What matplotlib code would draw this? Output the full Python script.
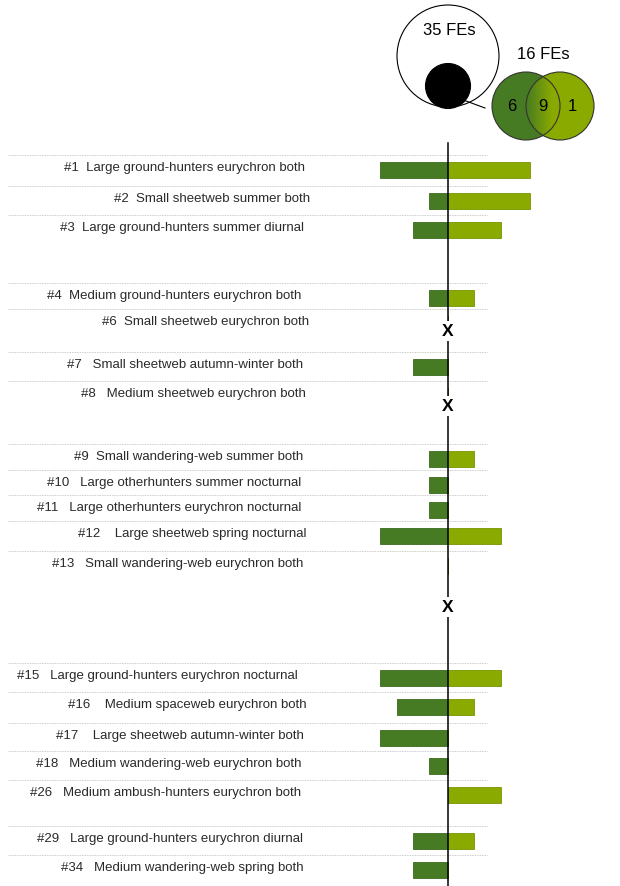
import numpy as np
import matplotlib.pyplot as plt
from matplotlib.patches import Circle

plt.rcParams['font.family'] = ['Liberation Sans', 'DejaVu Sans']

# functional entities (FEs), top to bottom
fe_ids = ['#1', '#2', '#3', '#4', '#6', '#7', '#8', '#9', '#10', '#11', '#12',
          '#13', '#15', '#16', '#17', '#18', '#26', '#29', '#34']
fe_names = ['Large ground-hunters eurychron both',
            'Small sheetweb summer both',
            'Large ground-hunters summer diurnal',
            'Medium ground-hunters eurychron both',
            'Small sheetweb eurychron both',
            'Small sheetweb autumn-winter both',
            'Medium sheetweb eurychron both',
            'Small wandering-web summer both',
            'Large otherhunters summer nocturnal',
            'Large otherhunters eurychron nocturnal',
            'Large sheetweb spring nocturnal',
            'Small wandering-web eurychron both',
            'Large ground-hunters eurychron nocturnal',
            'Medium spaceweb eurychron both',
            'Large sheetweb autumn-winter both',
            'Medium wandering-web eurychron both',
            'Medium ambush-hunters eurychron both',
            'Large ground-hunters eurychron diurnal',
            'Medium wandering-web spring both']
# left (dark green) and right (light green) bar lengths
left_vals = [4.0, 1.1, 2.05, 1.1, 0, 2.05, 0, 1.1, 1.1, 1.1, 4.0,
             0, 4.0, 3.0, 4.0, 1.1, 0, 2.05, 2.05]
right_vals = [4.8, 4.8, 3.1, 1.5, 0, 0, 0, 1.5, 0, 0, 3.1,
              0, 3.1, 1.5, 0, 0, 3.1, 1.5, 0]
absent = ['#6', '#8', '#13']

# venn counts
big_label = '35 FEs'
small_label = '16 FEs'
venn_counts = [6, 9, 1]

# layout (pixels from top)
row_top = [155, 186, 215, 283, 309, 352, 381, 444, 470, 495, 521,
           551, 663, 692, 723, 751, 780, 826, 855]
gap = [2, 2, 2, 2, 2, 3, 3, 2, 3, 3, 4, 3, 3, 4, 4, 3, 3, 3, 3]
label_right = [305, 310, 304, 301, 309, 303, 306, 303, 301, 301, 307,
               303, 298, 307, 304, 302, 301, 303, 304]
x_offset = {'#6': 22, '#8': 25, '#13': 56}
px_unit = 17.0
x0_px = 448
dark = '#467a23'
light = '#8aaa00'

fig = plt.figure(figsize=(6.2, 8.86), dpi=100)

# pixel-space axes for decorations
axp = fig.add_axes([0, 0, 1, 1])
axp.set_xlim(0, 620)
axp.set_ylim(886, 0)
axp.axis('off')

# bar axes sharing the pixel y coordinates
ax = fig.add_axes([0, 0, 1, 1])
ax.set_xlim(-x0_px / px_unit, (620 - x0_px) / px_unit)
ax.set_ylim(886, 0)
ax.axis('off')
ax.patch.set_alpha(0)

rows = np.array(row_top, dtype=float)
bar_y = rows + 14.5
lv = np.array(left_vals)
rv = np.array(right_vals)
ax.barh(bar_y, -lv, height=16, left=0, color=dark, edgecolor='#3a6a1c', linewidth=0.6, zorder=2)
ax.barh(bar_y, rv, height=16, left=0, color=light, edgecolor='#789400', linewidth=0.6, zorder=2)

for i, (fid, name) in enumerate(zip(fe_ids, fe_names)):
    axp.plot([8, 487], [rows[i], rows[i]], ls=(0, (1, 1)), color='#bbbbbb', lw=0.6)
    axp.text(label_right[i], rows[i] + 13, fid + ' ' * gap[i] + name, ha='right', va='center',
             fontsize=9.5, color='#2a2a2a')
    if fid in absent:
        ax.text(0, rows[i] + x_offset[fid], 'X', ha='center', va='center',
                fontsize=12.5, fontweight='bold', color='black', zorder=5,
                bbox=dict(facecolor='white', edgecolor='none', pad=1.5))

ax.plot([0, 0], [143, 886], color='black', lw=1.1, zorder=3)

# venn diagrams
axp.add_patch(Circle((448, 56), 51, facecolor='white', edgecolor='black', lw=0.8))
axp.add_patch(Circle((448, 86), 22.5, facecolor='black', edgecolor='black', lw=0.8))
axp.plot([466, 485], [101, 108], color='black', lw=0.8)
axp.text(449, 30, big_label, ha='center', va='center', fontsize=12)
axp.text(543, 54, small_label, ha='center', va='center', fontsize=12)

c1 = (526, 106)
c2 = (560, 106)
r = 34
axp.add_patch(Circle(c1, r, facecolor=dark, edgecolor='none'))
axp.add_patch(Circle(c2, r, facecolor=light, edgecolor='none'))

# gradient in the overlap
gx = np.linspace(c2[0] - r, c1[0] + r, 120)
gy = np.linspace(c1[1] - r, c1[1] + r, 200)
X, Y = np.meshgrid(gx, gy)
inside = (((X - c1[0])**2 + (Y - c1[1])**2) <= r**2) & (((X - c2[0])**2 + (Y - c2[1])**2) <= r**2)
t = np.clip((X - gx[0]) / (gx[-1] - gx[0]) * 1.3, 0, 1)
dc = np.array([0x46, 0x7a, 0x23]) / 255
lc = np.array([0x8a, 0xaa, 0x00]) / 255
img = np.zeros(X.shape + (4,))
for k in range(3):
    img[..., k] = dc[k] * (1 - t) + lc[k] * t
img[..., 3] = inside.astype(float)
axp.imshow(img, extent=(gx[0], gx[-1], gy[-1], gy[0]), origin='upper',
           aspect='auto', interpolation='bilinear', zorder=2)
axp.add_patch(Circle(c1, r, fill=False, edgecolor='#333333', lw=0.8, zorder=3))
axp.add_patch(Circle(c2, r, fill=False, edgecolor='#333333', lw=0.8, zorder=3))
axp.set_xlim(0, 620)
axp.set_ylim(886, 0)

for xx, n in zip([512, 543, 572], venn_counts):
    axp.text(xx, 106, str(n), ha='center', va='center', fontsize=12, zorder=4)

fig.savefig('out.png', dpi=100)
